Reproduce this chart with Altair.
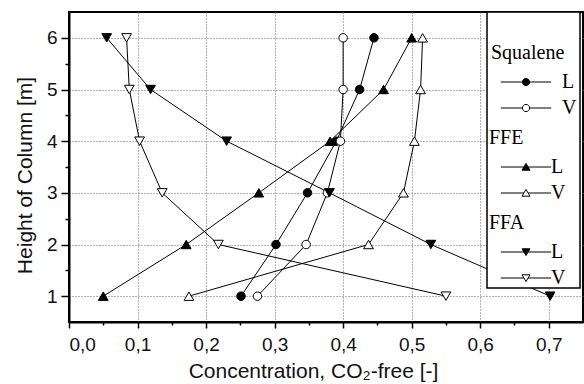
import altair as alt
import pandas as pd

# Column heights [m]
heights = [1, 2, 3, 4, 5, 6]

# CO2-free concentrations in the liquid (L) and vapour (V) phases
squalene_L = [0.251, 0.302, 0.348, 0.390, 0.424, 0.445]
squalene_V = [0.275, 0.346, 0.377, 0.396, 0.400, 0.400]
ffe_L = [0.050, 0.171, 0.277, 0.381, 0.459, 0.500]
ffe_V = [0.175, 0.437, 0.488, 0.504, 0.513, 0.516]
ffa_L = [0.702, 0.528, 0.380, 0.230, 0.119, 0.055]
ffa_V = [0.550, 0.218, 0.136, 0.103, 0.088, 0.084]

# Major and minor tick positions
x_tick_values = [0.0, 0.05, 0.1, 0.15, 0.2, 0.25, 0.3, 0.35, 0.4, 0.45,
                 0.5, 0.55, 0.6, 0.65, 0.7]
y_tick_values = [1, 1.5, 2, 2.5, 3, 3.5, 4, 4.5, 5, 5.5, 6]

phases = ["L", "V"]


def frame(name, liquid, vapour):
    rows = []
    for h, l, v in zip(heights, liquid, vapour):
        rows.append({"component": name, "phase": "L", "height": h, "conc": l})
        rows.append({"component": name, "phase": "V", "height": h, "conc": v})
    return pd.DataFrame(rows)


MINOR_X = "abs(datum.value * 10 - round(datum.value * 10)) > 0.01"
MINOR_Y = "abs(datum.value - round(datum.value)) > 0.01"

AXIS_FONT = "Liberation Sans, Arial, sans-serif"
LEGEND_FONT = "Liberation Serif, Times New Roman, serif"

x_enc = alt.X(
    "conc:Q",
    scale=alt.Scale(domain=[0, 0.75], nice=False, zero=False),
    axis=alt.Axis(
        values=x_tick_values,
        labelExpr=f"({MINOR_X}) ? '' : replace(format(datum.value, '.1f'), '.', ',')",
        tickSize={"condition": {"test": MINOR_X, "value": 3}, "value": 6},
        gridOpacity={"condition": {"test": MINOR_X, "value": 0}, "value": 1},
        title="Concentration, CO₂-free [-]",
        labelPadding=7,
        titlePadding=6,
        titleX=244,
    ),
)
y_enc = alt.Y(
    "height:Q",
    scale=alt.Scale(domain=[0.5, 6.5], nice=False, zero=False),
    axis=alt.Axis(
        values=y_tick_values,
        labelExpr=f"({MINOR_Y}) ? '' : format(datum.value, 'd')",
        tickSize={"condition": {"test": MINOR_Y, "value": 4}, "value": 8},
        gridOpacity={"condition": {"test": MINOR_Y, "value": 0}, "value": 1},
        title="Height of Column [m]",
        labelPadding=4,
        titlePadding=11,
        titleY=163,
    ),
)

# Legend symbols: a short line with the marker in the middle (unit = 4 px)
LINE = "M-6.3,0H{a}M{a2},0H6.3"
circle_path = LINE.format(a=-0.9, a2=0.9) + "M0.9,0A0.9,0.9,0,1,1,-0.9,0A0.9,0.9,0,1,1,0.9,0Z"
tri_up_path = LINE.format(a=-0.53, a2=0.53) + "M0,-0.9L1,0.8L-1,0.8Z"
tri_down_path = LINE.format(a=-0.53, a2=0.53) + "M0,0.9L1,-0.8L-1,-0.8Z"

groups = [
    ("Squalene", squalene_L, squalene_V, "circle", 72, circle_path, 422, 31, 25, 26),
    ("FFE", ffe_L, ffe_V, "triangle-up", 95, tri_up_path, 420, 116, 27, 15),
    ("FFA", ffa_L, ffa_V, "triangle-down", 95, tri_down_path, 420, 201, 27, 15),
]

line_layers = []
point_layers = []
for name, liq, vap, shape, size, sym, lx, ly, soff, loff in groups:
    base = alt.Chart(frame(name, liq, vap))
    line_layers.append(
        base.mark_line(color="black", strokeWidth=1).encode(
            x=x_enc, y=y_enc, detail="phase:N", order="height:Q"
        )
    )
    point_layers.append(
        base.mark_point(
            shape=shape, size=size, filled=True, stroke="black",
            strokeWidth=1, opacity=1,
        ).encode(
            x=x_enc,
            y=y_enc,
            fill=alt.Fill(
                "phase:N",
                scale=alt.Scale(domain=phases, range=["black", "white"]),
                legend=alt.Legend(
                    title=name,
                    orient="none",
                    legendX=lx,
                    legendY=ly,
                    padding=0,
                    titleFont=LEGEND_FONT,
                    titleFontSize=20,
                    titleFontWeight="normal",
                    titleColor="black",
                    titlePadding=9,
                    labelFont=LEGEND_FONT,
                    labelFontSize=20,
                    labelColor="black",
                    labelOffset=loff,
                    symbolType=sym,
                    symbolSize=64,
                    symbolOffset=soff,
                    symbolStrokeColor="black",
                    symbolStrokeWidth=1,
                    rowPadding=6,
                ),
            ),
        )
    )

# Legend frame, drawn over the data
legend_box = alt.Chart(pd.DataFrame({"k": [0]})).mark_rect(
    fill="white", stroke="black", strokeWidth=1.5
).encode(
    x=alt.value(418), x2=alt.value(511), y=alt.value(0), y2=alt.value(276)
)

chart = (
    alt.layer(*line_layers, *point_layers, legend_box)
    .resolve_scale(fill="independent")
    .properties(
        width=514,
        height=310,
        autosize=alt.AutoSizeParams(type="none"),
        padding={"left": 69, "top": 12, "right": 1, "bottom": 62},
        background="white",
    )
    .configure_view(stroke="black", strokeWidth=2)
    .configure_axis(
        domainColor="black",
        domainWidth=2,
        tickColor="black",
        tickWidth=1.5,
        labelFont=AXIS_FONT,
        labelFontSize=19,
        labelColor="#111",
        titleFont=AXIS_FONT,
        titleFontSize=21,
        titleFontWeight="normal",
        titleColor="#111",
        gridColor="#666",
        gridDash=[1, 2],
        gridWidth=1,
    )
    .configure_legend(
        titleFont=LEGEND_FONT,
        labelFont=LEGEND_FONT,
        titleFontWeight="normal",
    )
)

chart.save("out.html", embed_options={"renderer": "svg", "actions": False})
